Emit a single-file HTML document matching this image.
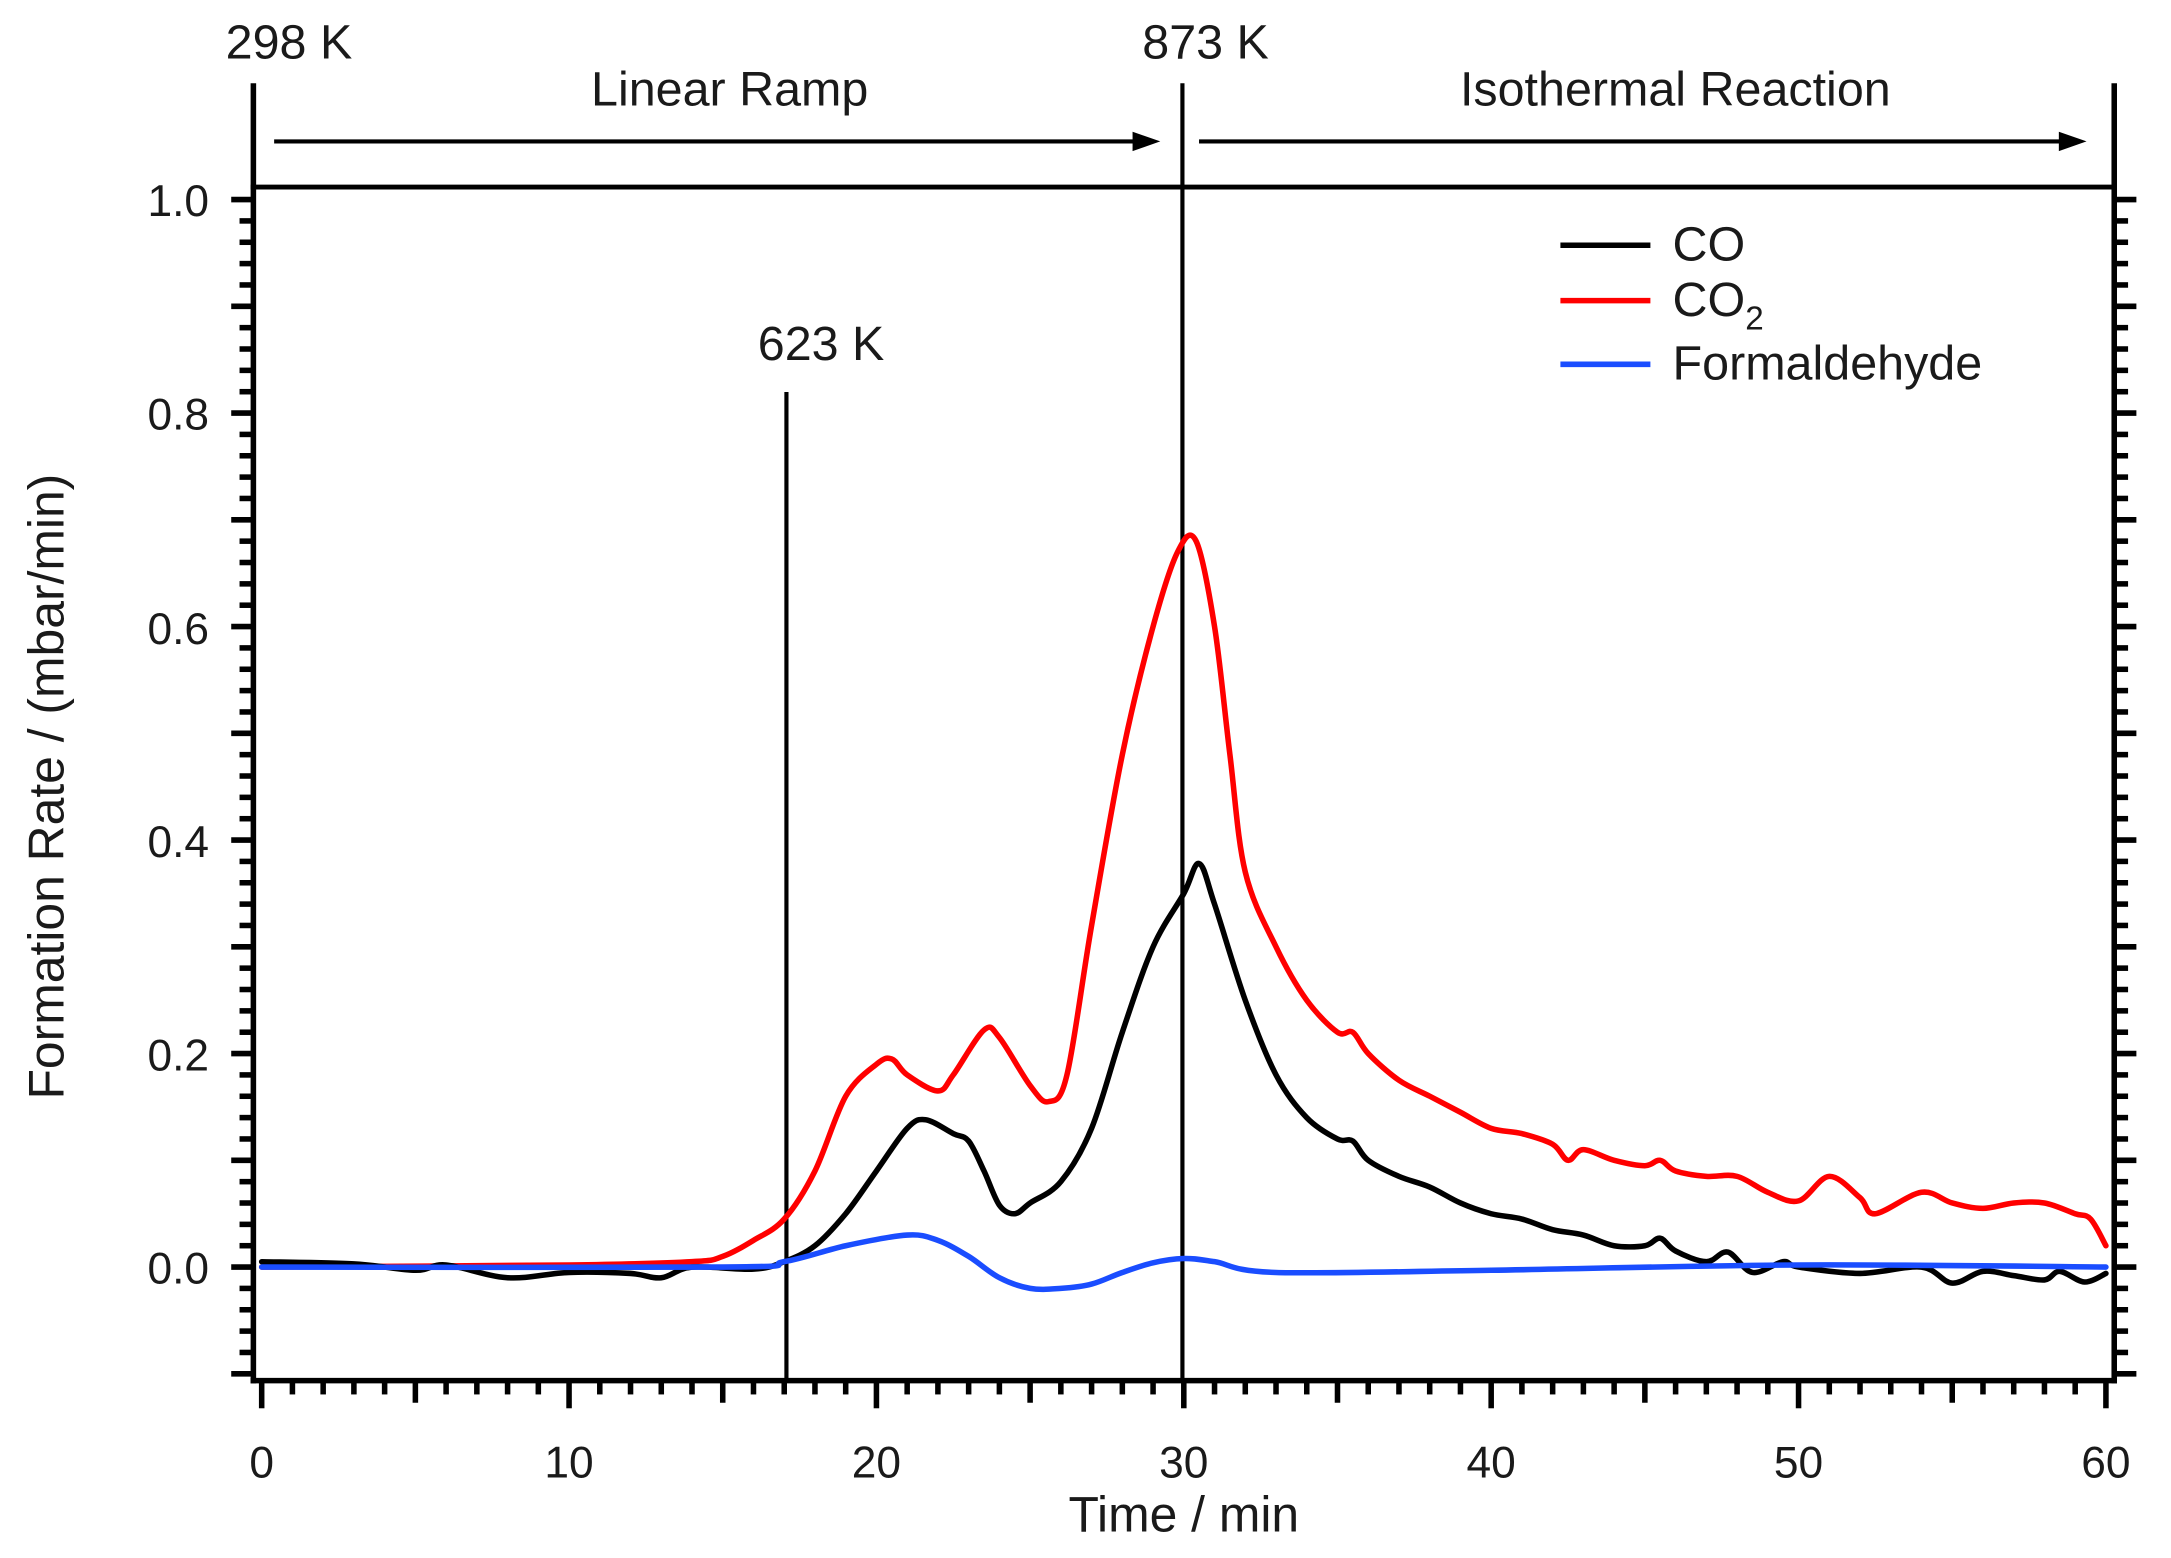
<!DOCTYPE html>
<html><head><meta charset="utf-8"><style>
html,body{margin:0;padding:0;background:#fff;}
svg{display:block;}
text{font-family:"Liberation Sans",Arial,sans-serif;fill:#1a1a1a;}
</style></head><body>
<svg id="s" width="2171" height="1558" viewBox="0 0 1568 1125" xmlns="http://www.w3.org/2000/svg">
<g stroke="#000" fill="none">
<line x1="183" y1="60" x2="183" y2="999" stroke-width="4"/>
<line x1="1527" y1="60" x2="1527" y2="999" stroke-width="4"/>
<line x1="181" y1="135" x2="1529" y2="135" stroke-width="3.5"/>
<line x1="181" y1="997" x2="1529" y2="997" stroke-width="4"/>
<line x1="854" y1="60" x2="854" y2="997" stroke-width="3"/>
<line x1="568" y1="283" x2="568" y2="997" stroke-width="3"/>
<line x1="198" y1="102" x2="825" y2="102" stroke-width="3"/>
<line x1="866" y1="102" x2="1495" y2="102" stroke-width="3"/>
</g>
<polygon points="838,102 818,95 818,109" fill="#000"/>
<polygon points="1507,102 1487,95 1487,109" fill="#000"/>
<g id="ticks" stroke="#000" stroke-width="4"></g>
<text x="163" y="42" font-size="35">298 K</text>
<text x="825" y="42" font-size="35">873 K</text>
<text x="527" y="76" font-size="35" text-anchor="middle">Linear Ramp</text>
<text x="1210" y="76" font-size="35" text-anchor="middle">Isothermal Reaction</text>
<text x="593" y="260" font-size="35" text-anchor="middle">623 K</text>
<g font-size="32" text-anchor="end">
<text x="151" y="156">1.0</text><text x="151" y="310">0.8</text><text x="151" y="465">0.6</text>
<text x="151" y="619">0.4</text><text x="151" y="773">0.2</text><text x="151" y="927">0.0</text>
</g>
<g font-size="32" text-anchor="middle">
<text x="189" y="1067">0</text><text x="411" y="1067">10</text><text x="633" y="1067">20</text>
<text x="855" y="1067">30</text><text x="1077" y="1067">40</text><text x="1299" y="1067">50</text><text x="1521" y="1067">60</text>
</g>
<text x="855" y="1106" font-size="36" text-anchor="middle">Time / min</text>
<text transform="translate(46,568) rotate(-90)" font-size="36" text-anchor="middle">Formation Rate / (mbar/min)</text>
<g stroke-width="4">
<line x1="1127" y1="177" x2="1192" y2="177" stroke="#000"/>
<line x1="1127" y1="217" x2="1192" y2="217" stroke="#f00"/>
<line x1="1127" y1="263" x2="1192" y2="263" stroke="#1a4dff"/>
</g>
<text x="1208" y="188" font-size="35">CO</text>
<text x="1208" y="228" font-size="35">CO<tspan font-size="24" dy="10">2</tspan></text>
<text x="1208" y="274" font-size="35">Formaldehyde</text>
<g id="curves" fill="none" stroke-width="4" stroke-linejoin="round" stroke-linecap="round"></g>
</svg>
<script>
var NS="http://www.w3.org/2000/svg";
function X(t){return 189+t*22.2;} function Y(v){return 915-v*771;}
var tk=document.getElementById("ticks");
function L(a,b,c,d){var l=document.createElementNS(NS,"line");l.setAttribute("x1",a);l.setAttribute("y1",b);l.setAttribute("x2",c);l.setAttribute("y2",d);tk.appendChild(l);}
for(var i=0;i<=60;i++){var len=i%10==0?20:(i%5==0?16:10);L(X(i),997,X(i),997+len);}
for(var j=-5;j<=50;j++){var v=j*0.02;var y=Y(v);var len=(j%5==0)?16:10;L(183,y,183-len,y);L(1527,y,1527+len,y);}
var co2=[[0,0],[10,0.002],[14,0.005],[15,0.01],[16,0.025],[17,0.045],[18,0.09],[19,0.16],[20,0.19],[20.5,0.195],[21,0.18],[22,0.165],[22.5,0.18],[23.5,0.222],[24,0.215],[25,0.17],[25.6,0.155],[26.2,0.18],[27,0.32],[28,0.48],[29,0.6],[29.8,0.67],[30.4,0.68],[31,0.6],[31.5,0.48],[32,0.37],[33,0.3],[34,0.25],[35,0.22],[35.5,0.22],[36,0.2],[37,0.175],[38,0.16],[39,0.145],[40,0.13],[41,0.125],[42,0.115],[42.5,0.1],[43,0.11],[44,0.1],[45,0.095],[45.5,0.1],[46,0.09],[47,0.085],[48,0.085],[49,0.07],[50,0.062],[51,0.085],[52,0.065],[52.5,0.05],[54,0.07],[55,0.06],[56,0.055],[57,0.06],[58,0.06],[59,0.05],[59.5,0.045],[60,0.02]];
var co=[[0,0.005],[3,0.003],[5,-0.003],[6,0.002],[8,-0.01],[10,-0.005],[12,-0.006],[13,-0.01],[14,0],[16,-0.002],[17,0.005],[18,0.02],[19,0.05],[20,0.09],[21,0.13],[21.6,0.138],[22.5,0.125],[23,0.118],[23.5,0.09],[24,0.058],[24.5,0.05],[25,0.06],[26,0.08],[27,0.13],[28,0.22],[29,0.3],[30,0.35],[30.5,0.378],[31,0.34],[32,0.25],[33,0.18],[34,0.14],[35,0.12],[35.5,0.118],[36,0.1],[37,0.085],[38,0.075],[39,0.06],[40,0.05],[41,0.045],[42,0.035],[43,0.03],[44,0.02],[45,0.02],[45.5,0.027],[46,0.015],[47,0.005],[47.7,0.014],[48.5,-0.005],[49.5,0.005],[50,0],[52,-0.006],[54,0],[55,-0.015],[56,-0.004],[57,-0.008],[58,-0.012],[58.5,-0.004],[59.3,-0.014],[60,-0.006]];
var fm=[[0,0],[15,0],[17,0.005],[19,0.02],[21,0.03],[22,0.025],[23,0.01],[24,-0.01],[25,-0.02],[26,-0.02],[27,-0.016],[28,-0.005],[29,0.004],[30,0.008],[31,0.005],[33,-0.005],[40,-0.003],[50,0.002],[60,0]];
var cg=document.getElementById("curves");
function P(d,c){var p=d.map(function(a){return [X(a[0]),Y(a[1])];});var s="M"+p[0][0]+","+p[0][1];
for(var i=0;i<p.length-1;i++){var p0=p[i-1]||p[i],p1=p[i],p2=p[i+1],p3=p[i+2]||p2;
var c1=[p1[0]+(p2[0]-p0[0])/6,p1[1]+(p2[1]-p0[1])/6],c2=[p2[0]-(p3[0]-p1[0])/6,p2[1]-(p3[1]-p1[1])/6];
s+=" C"+c1[0].toFixed(1)+","+c1[1].toFixed(1)+" "+c2[0].toFixed(1)+","+c2[1].toFixed(1)+" "+p2[0].toFixed(1)+","+p2[1].toFixed(1);}
var e=document.createElementNS(NS,"path");e.setAttribute("d",s);e.setAttribute("stroke",c);cg.appendChild(e);}
P(co2,"#f00");P(co,"#000");P(fm,"#1a4dff");
</script>
</body></html>
